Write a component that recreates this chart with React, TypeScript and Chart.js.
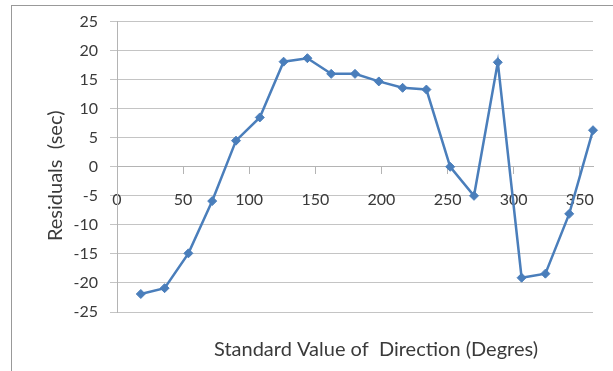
import React, { useEffect, useRef } from "react";
import { Chart, registerables } from "chart.js";

Chart.register(...registerables);

const directions = [18, 36, 54, 72, 90, 108, 126, 144, 162, 180, 198, 216, 234, 252, 270, 288, 306, 324, 342, 360];
const residuals = [-21.9, -20.9, -14.9, -5.9, 4.5, 8.5, 18.1, 18.7, 16.0, 16.0, 14.7, 13.6, 13.3, 0.0, -5.0, 18.0, -19.1, -18.4, -8.1, 6.3];
const xTitle = "Standard Value of  Direction (Degres)";
const yTitle = "Residuals  (sec)";
const xMin = 0, xMax = 360, xStep = 50;
const yMin = -25, yMax = 25, yStep = 5;

const FONT = "Lato, 'Open Sans', sans-serif";
const TEXT = "#3a3a3a";

export default function App() {
  const ref = useRef<HTMLCanvasElement>(null);
  useEffect(() => {
    if (!ref.current) return;
    const titlePlugin = {
      id: "axisTitles",
      afterDraw(chart: any) {
        const ctx = chart.ctx;
        const area = chart.chartArea;
        ctx.save();
        ctx.fillStyle = TEXT;
        ctx.font = `20px ${FONT}`;
        ctx.textAlign = "center";
        ctx.textBaseline = "alphabetic";
        ctx.fillText(xTitle, (area.left + area.right) / 2 + 21, area.bottom + 44);
        ctx.translate(area.left - 55, (area.top + area.bottom) / 2 + 9);
        ctx.rotate(-Math.PI / 2);
        ctx.fillText(yTitle, 0, 0);
        ctx.restore();
      },
    };
    const chart = new Chart(ref.current, {
      type: "line",
      data: {
        datasets: [
          {
            data: directions.map((d, i) => ({ x: d, y: residuals[i] })),
            borderColor: "#4a7ebb",
            backgroundColor: "#4a7ebb",
            borderWidth: 2.5,
            pointStyle: "rectRot",
            pointRadius: 4.5,
            pointBorderWidth: 1,
            tension: 0,
            clip: false as any,
          },
        ],
      },
      options: {
        animation: false,
        responsive: false,
        maintainAspectRatio: false,
        layout: { padding: { left: 11, top: 20, right: 20, bottom: 59 } },
        plugins: { legend: { display: false }, tooltip: { enabled: false }, title: { display: false } },
        scales: {
          x: {
            type: "linear",
            position: { y: 0 } as any,
            min: xMin,
            max: xMax,
            afterFit: (s: any) => { s.height = 0; },
            ticks: { stepSize: xStep, includeBounds: false, padding: 16, color: TEXT, font: { family: FONT, size: 16 }, maxRotation: 0 },
            grid: { drawOnChartArea: false, drawTicks: true, tickLength: 7, color: "#b4b4b4" },
            border: { display: true, color: "#b4b4b4", width: 1 },
          },
          y: {
            type: "linear",
            position: "left",
            min: yMin,
            max: yMax,
            afterFit: (s: any) => { s.width = 106; },
            ticks: { stepSize: yStep, padding: 12, color: TEXT, font: { family: FONT, size: 16 } },
            grid: { color: "#c4c4c4", tickLength: 7, drawTicks: true },
            border: { display: true, color: "#b4b4b4", width: 1 },
          },
        },
      },
      plugins: [titlePlugin],
    });
    return () => chart.destroy();
  }, []);
  return (
    <div style={{ position: "fixed", left: 0, top: 0, width: 613, height: 371, overflow: "hidden", background: "#fff" }}>
      <div style={{ position: "absolute", left: 11, top: 5, width: 800, height: 600, borderLeft: "1px solid #999", borderTop: "1px solid #999" }} />
      <canvas ref={ref} width={613} height={371} style={{ position: "absolute", left: 0, top: 0, width: 613, height: 371 }} />
    </div>
  );
}
